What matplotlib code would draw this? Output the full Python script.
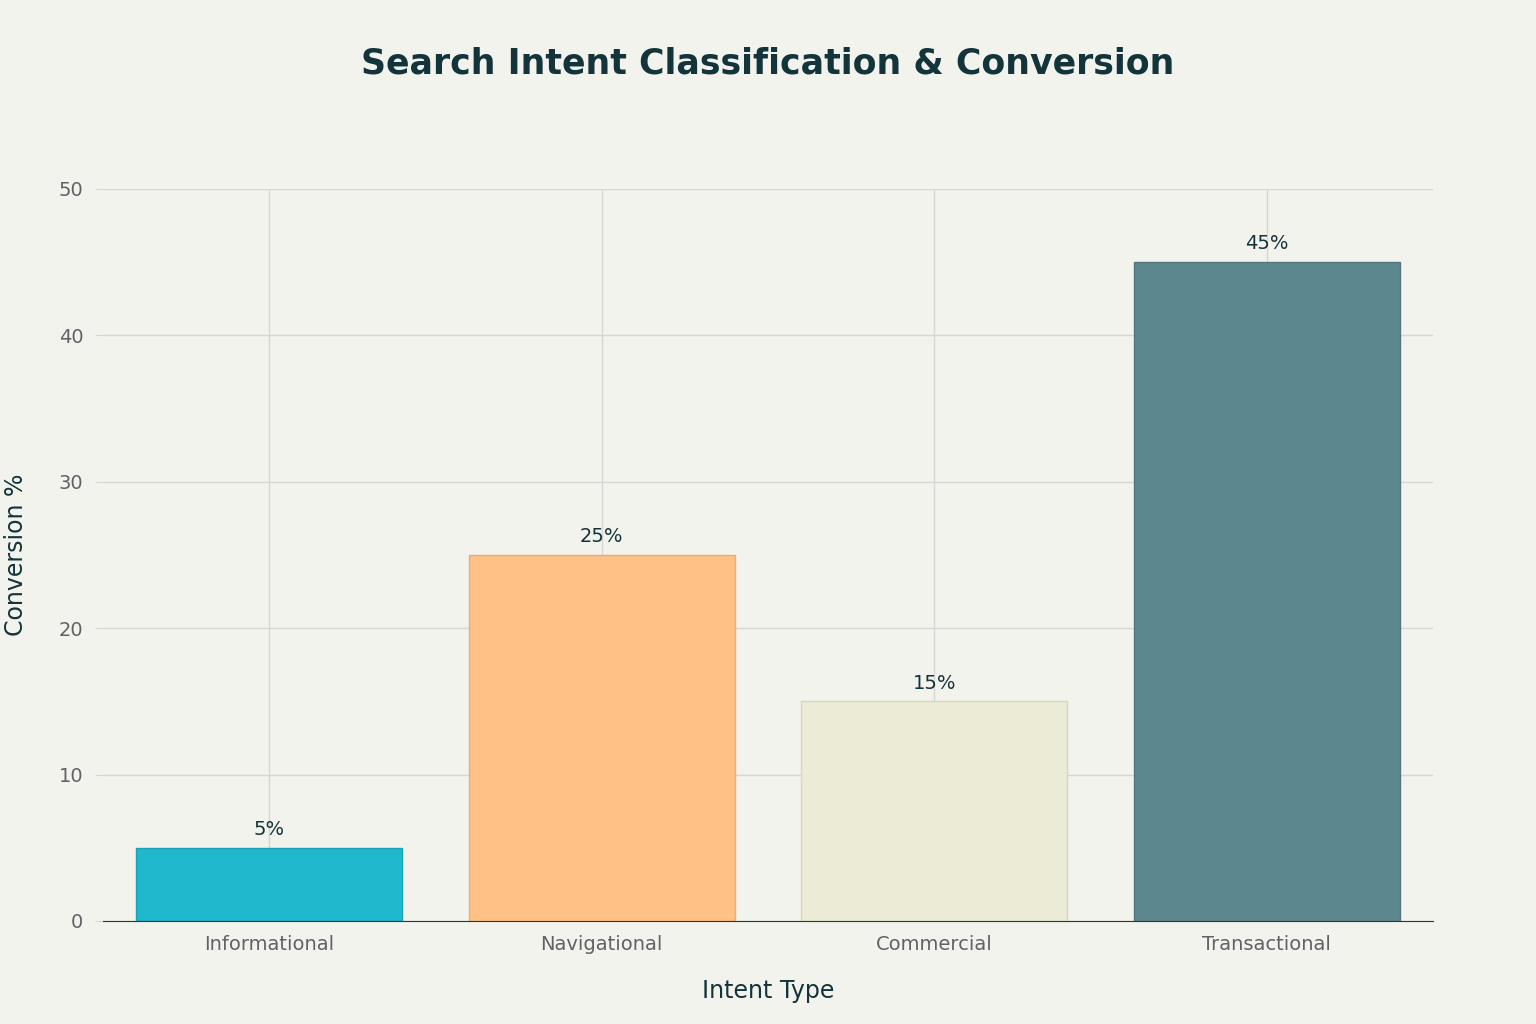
import matplotlib
matplotlib.use("Agg")
import matplotlib.pyplot as plt

categories = ["Informational", "Navigational", "Commercial", "Transactional"]
values = [5, 25, 15, 45]
colors = ["#1FB8CD", "#FFC185", "#ECEBD5", "#5D878F"]
edges = ["#1aa3b5", "#e8ad75", "#d6d5bf", "#52787f"]

bg = "#F3F3EE"
fig = plt.figure(figsize=(15.36, 10.24), dpi=100, facecolor=bg)
ax = fig.add_axes([0.067, 0.1006, 0.866, 0.715], facecolor=bg)
x = range(len(categories))
ax.bar(x, values, width=0.8, color=colors, edgecolor=edges, linewidth=1, zorder=2)
for i, v in zip(x, values):
    ax.text(i, v + 0.6, f"{v}%", ha="center", va="bottom", fontsize=14, color="#13343B", zorder=3)
ax.set_xlim(-0.5, 3.5)
ax.set_ylim(0, 50)
ax.set_yticks([0, 10, 20, 30, 40, 50])
ax.set_xticks(list(x))
ax.set_xticklabels(categories)
ax.grid(True, color="#D6D6D3", linewidth=1, zorder=0)
for s in ["top", "right", "left"]:
    ax.spines[s].set_visible(False)
ax.spines["bottom"].set_color("#333333")
ax.tick_params(axis="both", colors="#5f6366", labelsize=14, length=0, pad=10)
ax.tick_params(axis="y", length=6, color="#D6D6D3", pad=8)
ax.set_xlabel("Intent Type", fontsize=17, color="#13343B", labelpad=18)
ax.set_ylabel("Conversion %", fontsize=17, color="#13343B", labelpad=22)
fig.text(0.5, 0.938, "Search Intent Classification & Conversion", ha="center", va="center",
         fontsize=25, fontweight="bold", color="#13343B")
fig.savefig("out.png", dpi=100, facecolor=bg)
